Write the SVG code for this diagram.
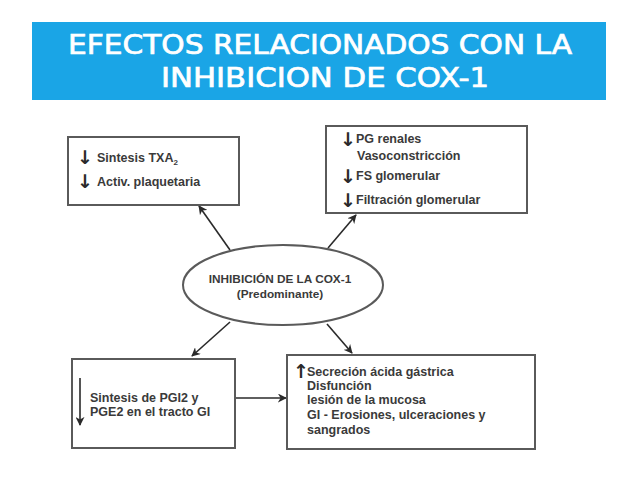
<svg xmlns="http://www.w3.org/2000/svg" width="638" height="479" viewBox="0 0 638 479">
<defs>
<style>
.title{font-family:"Comic Sans MS","DejaVu Sans","Liberation Sans",sans-serif;font-weight:normal;font-size:26px;fill:#ffffff;stroke:#ffffff;stroke-width:0.7;text-anchor:middle}
.box{fill:#ffffff;stroke:#5a5a5a;stroke-width:2}
.t{font-family:"Liberation Sans",Arial,sans-serif;font-weight:bold;font-size:12.5px;fill:#3a3a3a}
.ar{font-family:"DejaVu Sans",sans-serif;font-weight:bold;font-size:19px;fill:#2a2a2a}
.c{stroke:#2a2a2a;stroke-width:1.6;fill:none;marker-end:url(#ah)}
.et{font-family:"Liberation Sans",Arial,sans-serif;font-weight:bold;font-size:11.8px;fill:#3a3a3a;text-anchor:middle}
</style>
<marker id="ah" viewBox="0 0 10 10" refX="9" refY="5" markerWidth="9" markerHeight="9" markerUnits="userSpaceOnUse" orient="auto">
<path d="M0,0 L10,5 L0,10 L3,5 Z" fill="#2a2a2a"/>
</marker>
</defs>
<rect width="638" height="479" fill="#ffffff"/>
<g id="title">
<rect x="32" y="22" width="574" height="78" fill="#1aa5e6"/>
<text class="title" x="320" y="54" textLength="504" lengthAdjust="spacingAndGlyphs">EFECTOS RELACIONADOS CON LA</text>
<text class="title" x="325" y="87" textLength="328" lengthAdjust="spacingAndGlyphs">INHIBICION DE COX-1</text>
</g>
<g id="connectors">
<line class="c" x1="230" y1="250" x2="199" y2="206"/>
<line class="c" x1="328" y1="248" x2="356" y2="215"/>
<line class="c" x1="230" y1="322" x2="192" y2="356"/>
<line class="c" x1="327" y1="324" x2="352" y2="353"/>
<line class="c" x1="236" y1="398" x2="286" y2="398"/>
</g>
<g id="node-center">
<ellipse cx="283" cy="285" rx="100" ry="40" fill="#ffffff" stroke="#5a5a5a" stroke-width="2"/>
<text class="et" x="280" y="283">INHIBICIÓN DE LA COX-1</text>
<text class="et" x="280" y="298">(Predominante)</text>
</g>
<g id="node-plaquetas">
<rect class="box" x="68" y="137" width="171" height="68"/>
<text class="ar" x="77" y="164">↓</text>
<text class="t" x="97" y="162">Sintesis TXA<tspan font-size="8" dy="3">2</tspan></text>
<text class="ar" x="77" y="188">↓</text>
<text class="t" x="97" y="186">Activ. plaquetaria</text>
</g>
<g id="node-renal">
<rect class="box" x="326" y="126" width="201" height="87"/>
<text class="ar" x="340" y="146">↓</text>
<text class="t" x="356" y="143">PG renales</text>
<text class="t" x="357" y="160">Vasoconstricción</text>
<text class="ar" x="340" y="183">↓</text>
<text class="t" x="356" y="180">FS glomerular</text>
<text class="ar" x="340" y="207">↓</text>
<text class="t" x="356" y="204">Filtración glomerular</text>
</g>
<g id="node-pgi2">
<rect class="box" x="72" y="359" width="163" height="89"/>
<line x1="80" y1="378" x2="80" y2="425" stroke="#2a2a2a" stroke-width="1.6" marker-end="url(#ah)"/>
<text class="t" x="90" y="402">Sintesis de PGI2 y</text>
<text class="t" x="90" y="416">PGE2 en el tracto GI</text>
</g>
<g id="node-gi">
<rect class="box" x="287" y="355" width="248" height="94"/>
<text class="ar" x="293" y="378" font-size="15">↑</text>
<text class="t" x="307" y="376">Secreción ácida gástrica</text>
<text class="t" x="307" y="390">Disfunción</text>
<text class="t" x="307" y="404">lesión de la mucosa</text>
<text class="t" x="307" y="419">GI - Erosiones, ulceraciones y</text>
<text class="t" x="307" y="434">sangrados</text>
</g>
</svg>
